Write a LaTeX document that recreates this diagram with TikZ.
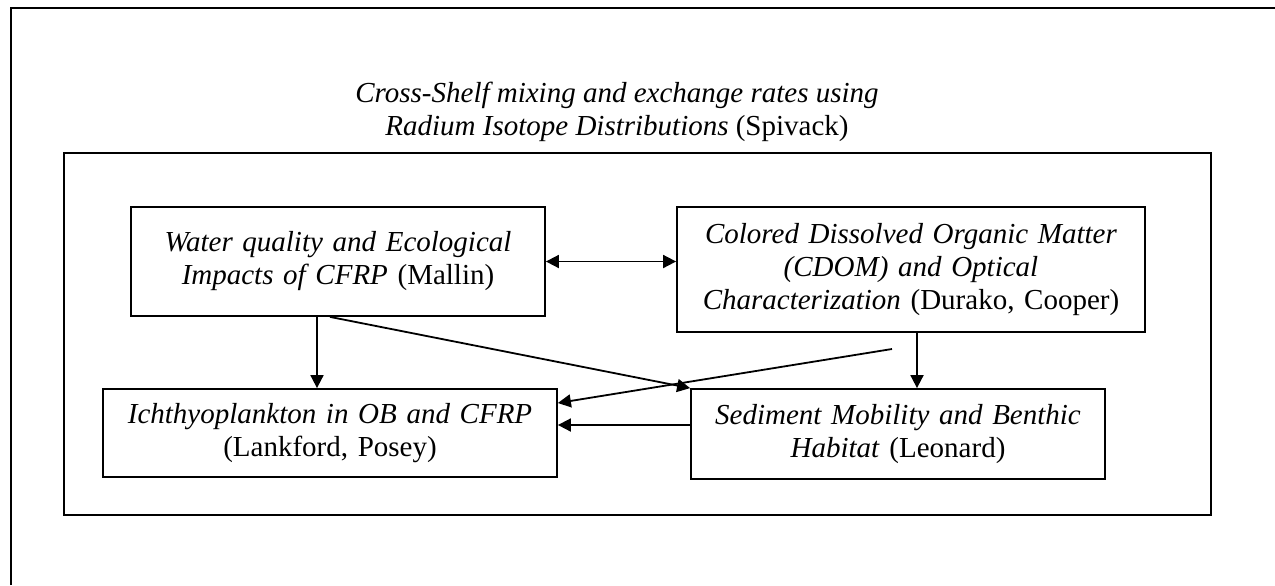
\documentclass[tikz,border=0pt]{standalone}
\usepackage{fontspec}
\setmainfont{Liberation Serif}
\usetikzlibrary{arrows.meta}

\begin{document}
\begin{tikzpicture}[->,>={Triangle[length=6.5pt,width=6.5pt]},x=0.5pt,y=-0.5pt,line width=0.9pt,
	proj/.style={draw,-,inner sep=0pt,align=center,font=\fontsize{14.5pt}{16.5pt}\selectfont}]

\useasboundingbox (0,0) rectangle (1275,585);

% frames
\draw[-] (11,585) -- (11,8) -- (1275,8);
\draw[-] (64,153) rectangle (1211,515);

\node[align=center,font=\fontsize{14.5pt}{16.5pt}\selectfont](title) at (617,112){\textit{Cross-Shelf mixing and exchange rates using}\\\textit{Radium Isotope Distributions} (Spivack)};

\node[proj,text width=207pt,minimum height=54.5pt](water) at (338,261.5){\textit{Water quality and Ecological}\\\textit{Impacts of CFRP} (Mallin)};
\node[proj,text width=234pt,minimum height=62.5pt](cdom) at (911,269.5){\textit{Colored Dissolved Organic Matter}\\\textit{(CDOM) and Optical}\\\textit{Characterization} (Durako, Cooper)};
\node[proj,text width=227pt,minimum height=44pt](ichthyo) at (330,433){\textit{Ichthyoplankton in OB and CFRP}\\(Lankford, Posey)};
\node[proj,text width=207pt,minimum height=45pt](sediment) at (898,434){\textit{Sediment Mobility and Benthic}\\\textit{Habitat} (Leonard)};

\coordinate (wdown) at ([xshift=-10.5pt]water.south);
\coordinate (wdiag) at ([xshift=-4pt]water.south);
\coordinate (cdown) at ([xshift=3pt]cdom.south);
\coordinate (cdomtail) at (892,349);
\coordinate (ihigh) at ([yshift=15pt]ichthyo.east);
\coordinate (sleft) at ([yshift=4.5pt]sediment.west);

\path(water.east)edge[<->](water.east -| cdom.west)
	(wdown)edge(wdown |- ichthyo.north)
	(wdiag)edge(sediment.north west)
	(cdomtail)edge(ihigh)
	(cdown)edge(cdown |- sediment.north)
	(sleft)edge(sleft -| ichthyo.east);

\end{tikzpicture}
\end{document}
